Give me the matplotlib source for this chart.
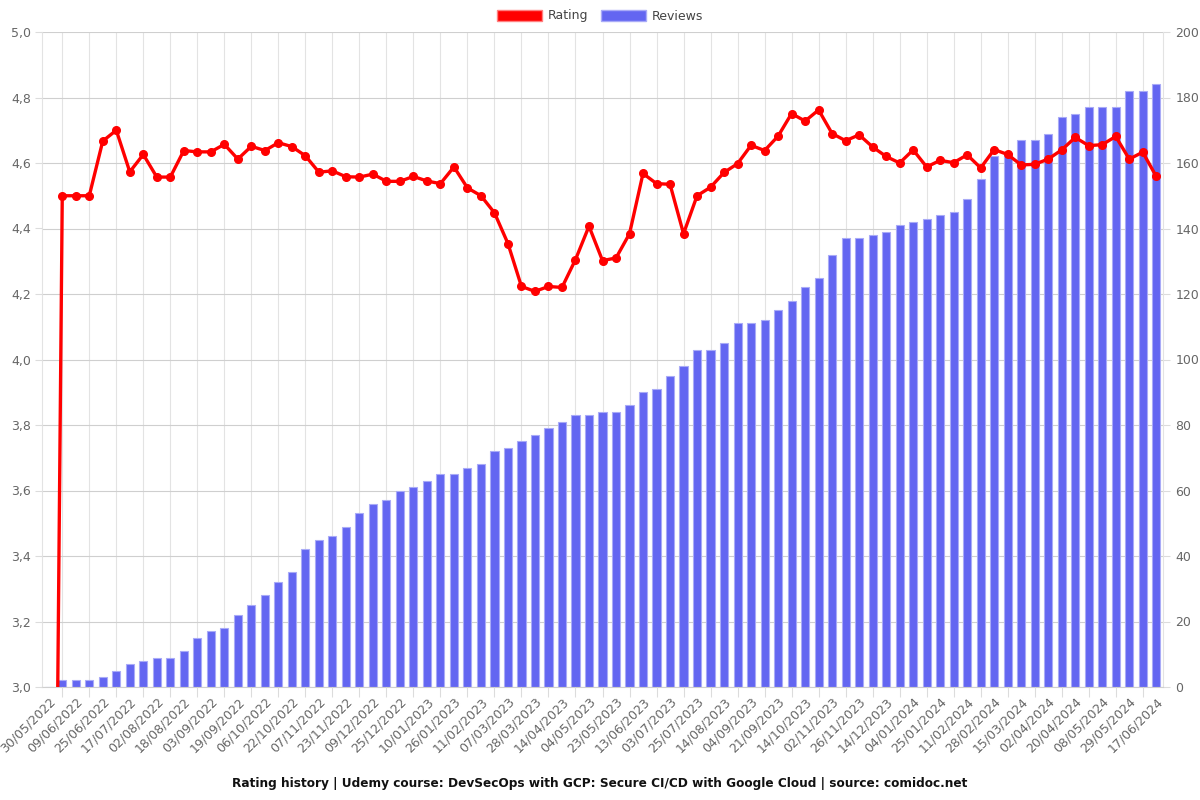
import matplotlib
matplotlib.use("Agg")
import matplotlib.pyplot as plt
from matplotlib.patches import Patch
from matplotlib.ticker import FixedLocator, FuncFormatter

# ---- data ----
tick_dates = ["30/05/2022", "09/06/2022", "25/06/2022", "17/07/2022", "02/08/2022",
              "18/08/2022", "03/09/2022", "19/09/2022", "06/10/2022", "22/10/2022",
              "07/11/2022", "23/11/2022", "09/12/2022", "25/12/2022", "10/01/2023",
              "26/01/2023", "11/02/2023", "07/03/2023", "28/03/2023", "14/04/2023",
              "04/05/2023", "23/05/2023", "13/06/2023", "03/07/2023", "25/07/2023",
              "14/08/2023", "04/09/2023", "21/09/2023", "14/10/2023", "02/11/2023",
              "26/11/2023", "14/12/2023", "04/01/2024", "25/01/2024", "11/02/2024",
              "28/02/2024", "15/03/2024", "02/04/2024", "20/04/2024", "08/05/2024",
              "29/05/2024", "17/06/2024"]

rating = [0.0, 4.5, 4.5, 4.5, 4.667, 4.7, 4.573, 4.626, 4.557, 4.557,
          4.638, 4.634, 4.634, 4.657, 4.612, 4.651, 4.638, 4.662, 4.65, 4.622,
          4.572, 4.576, 4.558, 4.557, 4.566, 4.544, 4.544, 4.559, 4.545, 4.537,
          4.588, 4.524, 4.5, 4.448, 4.354, 4.223, 4.208, 4.223, 4.22, 4.305,
          4.407, 4.302, 4.31, 4.384, 4.568, 4.537, 4.535, 4.384, 4.5, 4.526,
          4.571, 4.598, 4.654, 4.638, 4.682, 4.751, 4.728, 4.762, 4.69, 4.668,
          4.686, 4.649, 4.62, 4.6, 4.64, 4.588, 4.608, 4.601, 4.625, 4.585,
          4.641, 4.626, 4.594, 4.596, 4.612, 4.64, 4.678, 4.653, 4.656, 4.681,
          4.612, 4.633, 4.559]

reviews = [0, 2, 2, 2, 3, 5, 7, 8, 9, 9,
           11, 15, 17, 18, 22, 25, 28, 32, 35, 42,
           45, 46, 49, 53, 56, 57, 60, 61, 63, 65,
           65, 67, 68, 72, 73, 75, 77, 79, 81, 83,
           83, 84, 84, 86, 90, 91, 95, 98, 103, 103,
           105, 111, 111, 112, 115, 118, 122, 125, 132, 137,
           137, 138, 139, 141, 142, 143, 144, 145, 149, 155,
           162, 163, 167, 167, 169, 174, 175, 177, 177, 177,
           182, 182, 184]

title = "Rating history | Udemy course: DevSecOps with GCP: Secure CI/CD with Google Cloud | source: comidoc.net"

# ---- figure ----
plt.rcParams['font.family'] = ['DejaVu Sans']
fig = plt.figure(figsize=(12, 8), dpi=100)
ax = fig.add_axes([42/1200, 1-687/800, (1163-42)/1200, (687-32)/800])
ax2 = ax.twinx()

n = len(rating)
x = list(range(n))

grid_c = '#dcdcdc'
tick_c = '#666666'

# bars on right axis (behind)
ax2.bar(x, reviews, width=0.6, color='#6366f1', edgecolor='#a9abf7', linewidth=0.8, zorder=2)
ax2.set_ylim(0, 200)
ax2.yaxis.set_major_locator(FixedLocator(list(range(0, 201, 20))))
ax2.grid(axis='y', color='#cfcfcf', linewidth=0.8, zorder=0)
ax2.set_axisbelow(True)

# vertical grid (odd categories) on the back axis
ax2.xaxis.set_visible(True)
ax2.set_xticks(list(range(1, n, 2)), minor=True)
ax2.grid(axis='x', which='minor', color='#e3e3e3', linewidth=0.8, zorder=0)
ax2.tick_params(axis='x', which='both', length=0, labelbottom=False, labeltop=False)

# line on left axis (front)
ax.set_zorder(ax2.get_zorder() + 1)
ax.patch.set_visible(False)
ax.plot(x, rating, color='#ff0000', linewidth=2.4, marker='o', markersize=5.5,
        markerfacecolor='#ff0000', markeredgecolor='#ff0000', zorder=5, clip_on=True)
ax.set_ylim(3.0, 5.0)
ax.yaxis.set_major_locator(FixedLocator([3.0 + 0.2*k for k in range(11)]))
ax.yaxis.set_major_formatter(FuncFormatter(lambda v, p: f"{v:.1f}".replace('.', ',')))
ax.set_xlim(-0.5, n - 0.5)

# x ticks: labels on even categories, tick marks on odd categories
ax.set_xticks(list(range(0, n, 2)))
ax.set_xticklabels(tick_dates, rotation=45, ha='right', rotation_mode='anchor',
                   fontsize=9, color=tick_c)
ax.tick_params(axis='x', which='major', length=0, pad=6)
ax.set_xticks(list(range(1, n, 2)), minor=True)
ax.tick_params(axis='x', which='minor', length=7, color=grid_c, width=0.8)

ax.tick_params(axis='y', length=5, color=grid_c, labelsize=9, labelcolor=tick_c, pad=3)
ax2.tick_params(axis='y', length=5, color=grid_c, labelsize=9, labelcolor=tick_c, pad=4)

for a in (ax, ax2):
    for s in a.spines.values():
        s.set_visible(False)
ax2.spines['bottom'].set_visible(True)
ax2.spines['bottom'].set_color('#cfcfcf')
ax2.spines['left'].set_visible(True)
ax2.spines['left'].set_color('#e3e3e3')
ax2.spines['right'].set_visible(True)
ax2.spines['right'].set_color('#e3e3e3')

# legend
handles = [Patch(facecolor='#ff0000', edgecolor='#ff8080', linewidth=1, label='Rating'),
           Patch(facecolor='#6366f1', edgecolor='#a9abf7', linewidth=1, label='Reviews')]
fig.legend(handles=handles, loc='center', bbox_to_anchor=(0.5, 1 - 16/800), ncol=2,
           frameon=False, fontsize=9, handlelength=3.6, handleheight=1.0,
           columnspacing=1.0, handletextpad=0.5, labelcolor='#444444')

fig.text(0.5, 1 - 783/800, title, ha='center', va='center', fontsize=8.7,
         fontweight='bold', color='#111111')

fig.savefig('out.png', dpi=100)
